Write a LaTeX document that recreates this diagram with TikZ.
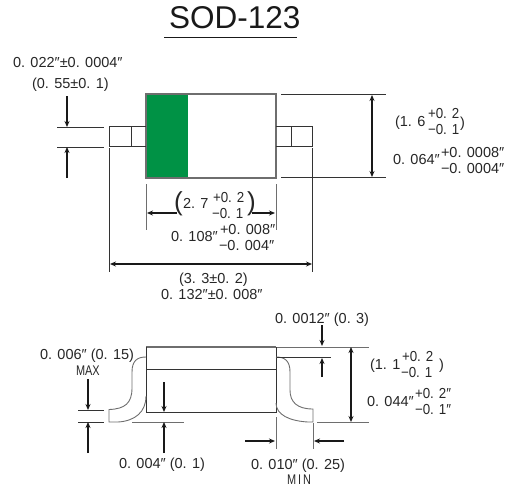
\documentclass[tikz,border=0pt]{standalone}
\usepackage{fontspec}
\setmainfont{Liberation Sans}
\newfontfamily\dimfont{Liberation Sans}
\newfontfamily\tolfont[FakeStretch=0.92]{Liberation Sans}
\newfontfamily\capfont[FakeStretch=0.78]{Liberation Sans}
\usetikzlibrary{arrows.meta}
\definecolor{bodygray}{HTML}{6E6E6E}
\definecolor{chipgreen}{HTML}{009245}
\tikzset{
  every node/.style={inner sep=0pt,outer sep=0pt},
  lbl/.style={anchor=base west,font=\dimfont\fontsize{14.5}{15}\selectfont,text=black!85},
  tol/.style={anchor=base west,font=\tolfont\fontsize{14.5}{15}\selectfont,text=black!85},
  lblsmall/.style={anchor=base west,font=\capfont\fontsize{14}{15}\selectfont,text=black!85},
  bigparen/.style={anchor=base west,font=\fontsize{26}{26}\selectfont,text=black!85},
  title/.style={anchor=base west,font=\fontsize{31.5}{32}\selectfont,text=black!90},
  outline/.style={draw=bodygray,line width=1.2pt},
  thin line/.style={draw=black!80,line width=0.8pt},
  ext/.style={draw=bodygray,line width=0.9pt},
  dim/.style={draw=black!90,line width=1.2pt,-{Stealth[length=6pt,width=5pt]}},
  dimboth/.style={draw=black!90,line width=1.2pt,{Stealth[length=6pt,width=5pt]}-{Stealth[length=6pt,width=5pt]}},
}
\begin{document}
\begin{tikzpicture}[x=1pt,y=-1pt]
\useasboundingbox (0,0) rectangle (510,488);
% title
\node[title] (title) at (169,28) {SOD-123};
\draw[draw=black!90,line width=1.5pt] (164,37.5) -- (297,37.5);
% top view
\fill[chipgreen] (147,95) rectangle (188,177);
\draw[outline] (146,94) rectangle (276,178);
\draw[thin line] (146,126.5) -- (109.5,126.5) -- (109.5,146) -- (146,146);
\draw[thin line] (131,126.5) -- (131,146);
\draw[thin line] (276,126.5) -- (312.5,126.5) -- (312.5,146) -- (276,146);
\draw[thin line] (291,126.5) -- (291,146);
% lead width
\draw[thin line] (57,127) -- (104,127);
\draw[thin line] (57,147) -- (104,147);
\draw[dim] (67,96) -- (67,127);
\draw[dim] (67,178) -- (67,147);
% height
\draw[thin line] (281,94.5) -- (386,94.5);
\draw[thin line] (281,177.5) -- (386,177.5);
\draw[dimboth] (372,95) -- (372,177);
% body length
\draw[ext] (146,184) -- (146,230);
\draw[ext] (276,184) -- (276,230);
\draw[dim] (177,213) -- (147,213);
\draw[dim] (252,213) -- (275,213);
% overall length
\draw[thin line] (109.5,148) -- (109.5,272);
\draw[thin line] (312.5,148) -- (312.5,272);
\draw[dimboth] (110,264) -- (312,264);
% top texts
\node[lbl] (t1) at (13,67) {0. 022″±0. 0004″};
\node[lbl] (t2) at (32,88) {(0. 55±0. 1)};
\node[lbl] (t3) at (395,126) {(1. 6};
\node[tol] (t4) at (428,118) {+0. 2};
\node[tol] (t5) at (428,134) {−0. 1};
\node[lbl] (t6) at (460,127) {)};
\node[lbl] (t7) at (393,164) {0. 064″};
\node[lbl] (t8) at (441,157) {+0. 0008″};
\node[lbl] (t9) at (441,173) {−0. 0004″};
\node[bigparen] (t10) at (174,210) {(};
\node[lbl] (t11) at (183,208) {2. 7};
\node[tol] (t12) at (213,202) {+0. 2};
\node[tol] (t13) at (212,218) {−0. 1};
\node[bigparen] (t14) at (247,210) {)};
\node[lbl] (t15) at (171,241) {0. 108″};
\node[lbl] (t16) at (220,234) {+0. 008″};
\node[lbl] (t17) at (219,250) {−0. 004″};
\node[lbl] (t18) at (179,283) {(3. 3±0. 2)};
\node[lbl] (t19) at (161,299) {0. 132″±0. 008″};
% side view
\draw[outline] (146,347) -- (276,347);
\draw[thin line] (146,347) -- (146,412) -- (276,412) -- (276,347);
\draw[thin line] (146,369) -- (276,369);
\draw[draw=bodygray,line width=0.9pt] (146,357) .. controls (137,357) and (132,361) .. (132,372)
  -- (132,388) .. controls (132,403) and (125,409) .. (109,409.5) -- (109,422)
  -- (118,422) .. controls (135,421) and (146,412) .. (146,396);
\draw[draw=bodygray,line width=0.9pt] (276,357) .. controls (285,357) and (290,361) .. (290,372)
  -- (290,390) .. controls (290,402) and (297,409) .. (313,409) -- (313,422)
  -- (308,422) .. controls (290,421) and (276,415) .. (276,403);
% lead thickness
\draw[thin line] (78,410) -- (104,410);
\draw[thin line] (78,422) -- (104,422);
\draw[dim] (88,379) -- (88,410);
\draw[dim] (88,453) -- (88,422);
% standoff
\draw[ext] (132,422) -- (184,422);
\draw[dim] (164,382) -- (164,412);
\draw[dim] (164,453) -- (164,422);
% right side
\draw[ext] (277,347) -- (369,347);
\draw[thin line] (277,357) -- (331,357);
\draw[ext] (317,422) -- (369,422);
\draw[dim] (322,325) -- (322,346);
\draw[dim] (322,377) -- (322,358);
\draw[dimboth] (351,347) -- (351,422);
\draw[ext] (276,417) -- (276,449);
\draw[ext] (313,423) -- (313,449);
\draw[dim] (245,441) -- (275,441);
\draw[dim] (344,441) -- (314,441);
% side texts
\node[lbl] (s1) at (40,359) {0. 006″ (0. 15)};
\node[lblsmall] (s2) at (76,375) {MAX};
\node[lbl] (s3) at (119,468) {0. 004″ (0. 1)};
\node[lbl] (s4) at (251,469) {0. 010″ (0. 25)};
\node[lblsmall] (s5) at (287,484) {M\kern2pt I\kern2pt N};
\node[lbl] (s6) at (275,323) {0. 0012″ (0. 3)};
\node[lbl] (s7) at (370,369) {(1. 1};
\node[tol] (s8) at (402,361) {+0. 2};
\node[tol] (s9) at (401,377) {−0. 1};
\node[lbl] (s10) at (439,369) {)};
\node[lbl] (s11) at (367,406) {0. 044″};
\node[tol] (s12) at (415,398) {+0. 2″};
\node[tol] (s13) at (415,414) {−0. 1″};
\end{tikzpicture}
\end{document}
